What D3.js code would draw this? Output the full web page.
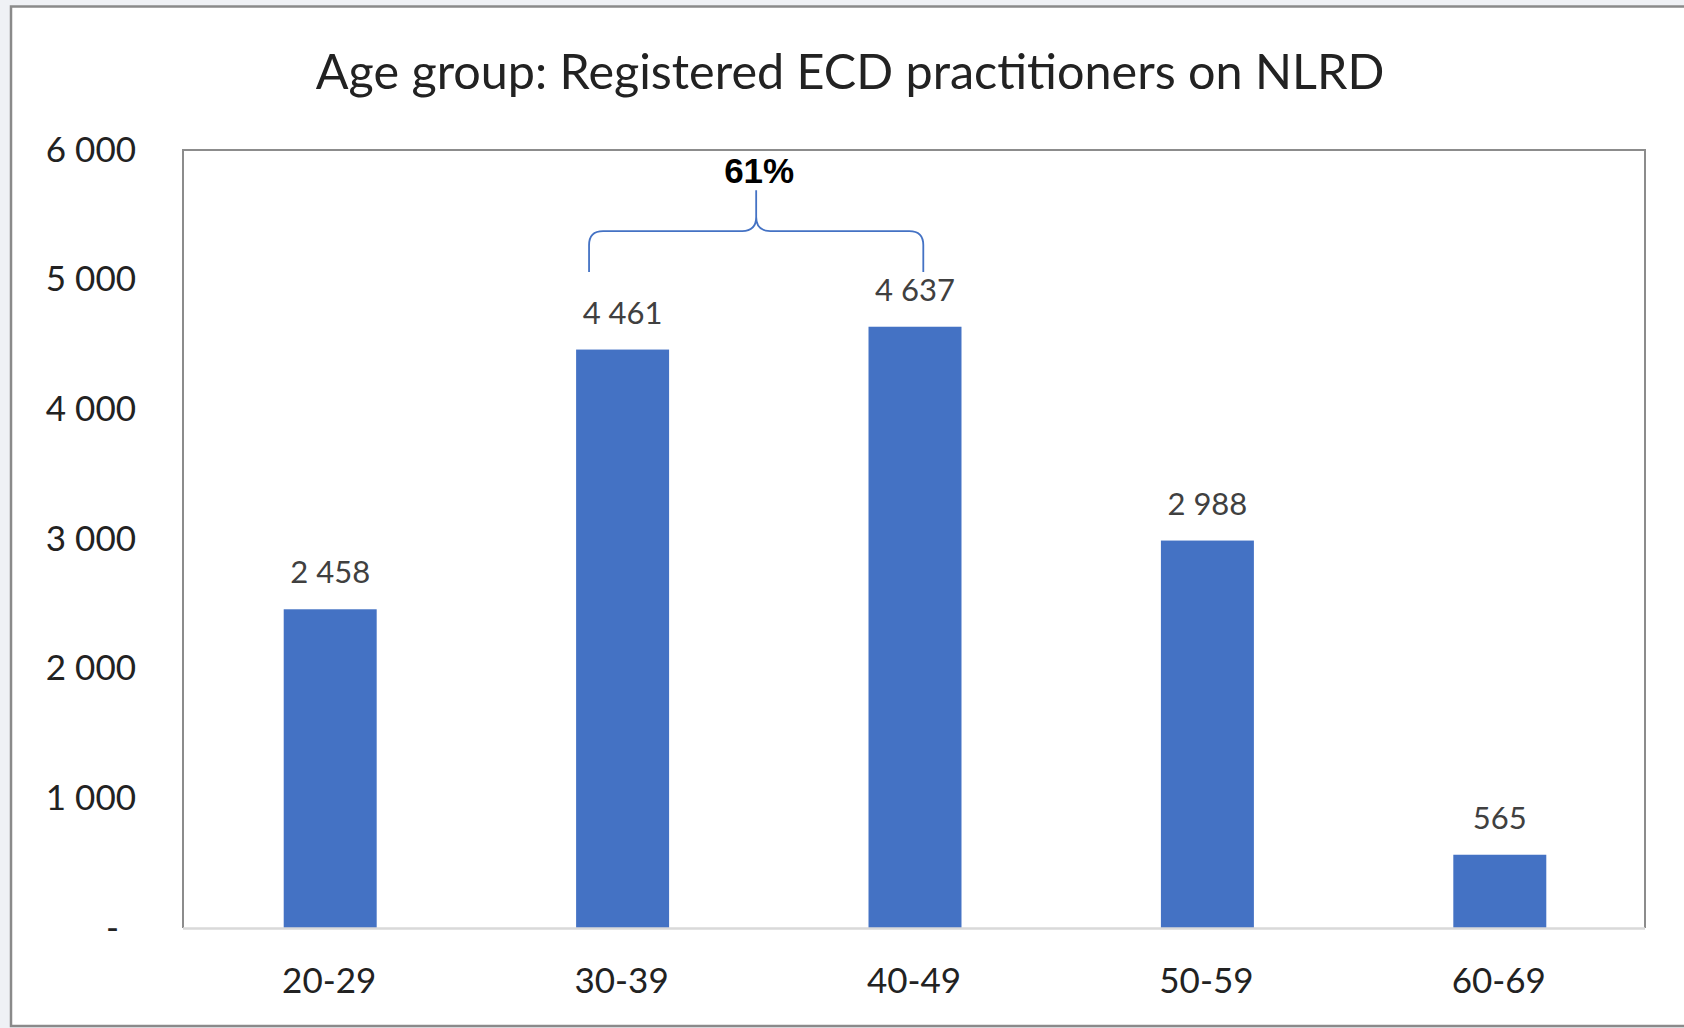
<!DOCTYPE html>
<html>
<head>
<meta charset="utf-8">
<script src="https://cdn.jsdelivr.net/npm/d3@7"></script>
<style>
  body { margin: 0; background: #eff1f5; }
  svg { display: block; }
</style>
</head>
<body>
<div id="container"></div>
<script>
/* DATA */
const ageGroups = ["20-29", "30-39", "40-49", "50-59", "60-69"];
const practitioners = [2458, 4461, 4637, 2988, 565];
const yTicks = [0, 1000, 2000, 3000, 4000, 5000, 6000];
const titleText = "Age group: Registered ECD practitioners on NLRD";
const braceLabel = "61%";

/* LAYOUT */
const W = 1684, H = 1028;
const plot = { left: 183, right: 1645, top: 150, bottom: 928 };
const barColor = "#4472c4";
const font = "Lato, 'Open Sans', sans-serif";

const data = ageGroups.map((g, i) => ({ group: g, value: practitioners[i] }));

// number format with a space as thousands separator
const fmt = d3.formatLocale({ decimal: ".", thousands: " ", grouping: [3], currency: ["", ""] }).format(",");

const svg = d3.select("#container")
  .append("svg")
  .attr("width", W)
  .attr("height", H);

// chart frame
svg.append("rect")
  .attr("x", 11)
  .attr("y", 6.5)
  .attr("width", W + 20)
  .attr("height", 1019.5)
  .attr("fill", "#fff")
  .attr("stroke", "#8a8a8a")
  .attr("stroke-width", 2.5);

// scales
const xScale = d3.scaleBand()
  .domain(ageGroups)
  .range([plot.left, plot.right])
  .paddingInner(0.682)
  .paddingOuter(0.341);

const yScale = d3.scaleLinear()
  .domain([0, 6000])
  .range([plot.bottom, plot.top]);

// plot area border (left, top, right)
svg.append("path")
  .attr("d", `M${plot.left},${plot.bottom}V${plot.top}H${plot.right}V${plot.bottom}`)
  .attr("fill", "none")
  .attr("stroke", "#8c8c8c")
  .attr("stroke-width", 2);

// bars
svg.selectAll(".bar")
  .data(data)
  .enter()
  .append("rect")
  .attr("class", "bar")
  .attr("x", d => xScale(d.group) + 1)
  .attr("y", d => yScale(d.value))
  .attr("width", xScale.bandwidth())
  .attr("height", d => yScale(0) - yScale(d.value))
  .attr("fill", barColor);

// bottom axis line
svg.append("line")
  .attr("x1", plot.left)
  .attr("x2", plot.right)
  .attr("y1", plot.bottom + 0.5)
  .attr("y2", plot.bottom + 0.5)
  .attr("stroke", "#d9d9d9")
  .attr("stroke-width", 2.5);

// X axis
const xAxis = svg.append("g")
  .attr("transform", `translate(0,${plot.bottom})`)
  .call(d3.axisBottom(xScale).tickSize(0).tickPadding(40));
xAxis.select(".domain").remove();
xAxis.selectAll("text")
  .attr("font-family", font)
  .attr("font-size", 35)
  .attr("fill", "#222");

// Y axis
const yAxis = svg.append("g")
  .attr("transform", `translate(${plot.left},0)`)
  .call(d3.axisLeft(yScale).tickValues(yTicks).tickSize(0).tickPadding(47)
    .tickFormat(d => d === 0 ? "-" : fmt(d)));
yAxis.select(".domain").remove();
yAxis.selectAll("text")
  .attr("font-family", font)
  .attr("font-size", 35)
  .attr("fill", "#222");
// the zero dash sits a bit left, like accounting format
yAxis.selectAll(".tick text").filter(d => d === 0).attr("dx", -17);

// data labels
svg.selectAll(".label")
  .data(data)
  .enter()
  .append("text")
  .attr("class", "label")
  .attr("x", d => xScale(d.group) + xScale.bandwidth() / 2 + 1)
  .attr("y", d => yScale(d.value) - 26)
  .attr("text-anchor", "middle")
  .attr("font-family", font)
  .attr("font-size", 31)
  .attr("fill", "#404040")
  .text(d => fmt(d.value));

// title
svg.append("text")
  .attr("x", 850)
  .attr("y", 89)
  .attr("text-anchor", "middle")
  .attr("font-family", font)
  .attr("font-size", 48.5)
  .attr("fill", "#222")
  .text(titleText);

// brace over 30-39 and 40-49
const bx0 = xScale("30-39") + xScale.bandwidth() * 0.15;
const bx1 = xScale("40-49") + xScale.bandwidth() * 0.6;
const bmid = (bx0 + bx1) / 2;
const yEnd = yScale(5060), yBar = yScale(5375), yTip = yScale(5690);
const r = 14;
const bracePath = [
  `M${bx0},${yEnd}`,
  `V${yBar + r}`,
  `Q${bx0},${yBar} ${bx0 + r},${yBar}`,
  `H${bmid - r}`,
  `Q${bmid},${yBar} ${bmid},${yBar - r}`,
  `V${yTip}`,
  `M${bmid},${yBar - r}`,
  `Q${bmid},${yBar} ${bmid + r},${yBar}`,
  `H${bx1 - r}`,
  `Q${bx1},${yBar} ${bx1},${yBar + r}`,
  `V${yEnd}`
].join(" ");

svg.append("path")
  .attr("d", bracePath)
  .attr("fill", "none")
  .attr("stroke", barColor)
  .attr("stroke-width", 1.8);

svg.append("text")
  .attr("x", bmid + 3)
  .attr("y", yScale(5745))
  .attr("text-anchor", "middle")
  .attr("font-family", "'Liberation Sans', Arial, sans-serif")
  .attr("font-weight", "bold")
  .attr("font-size", 35)
  .attr("fill", "#000")
  .text(braceLabel);
</script>
</body>
</html>
